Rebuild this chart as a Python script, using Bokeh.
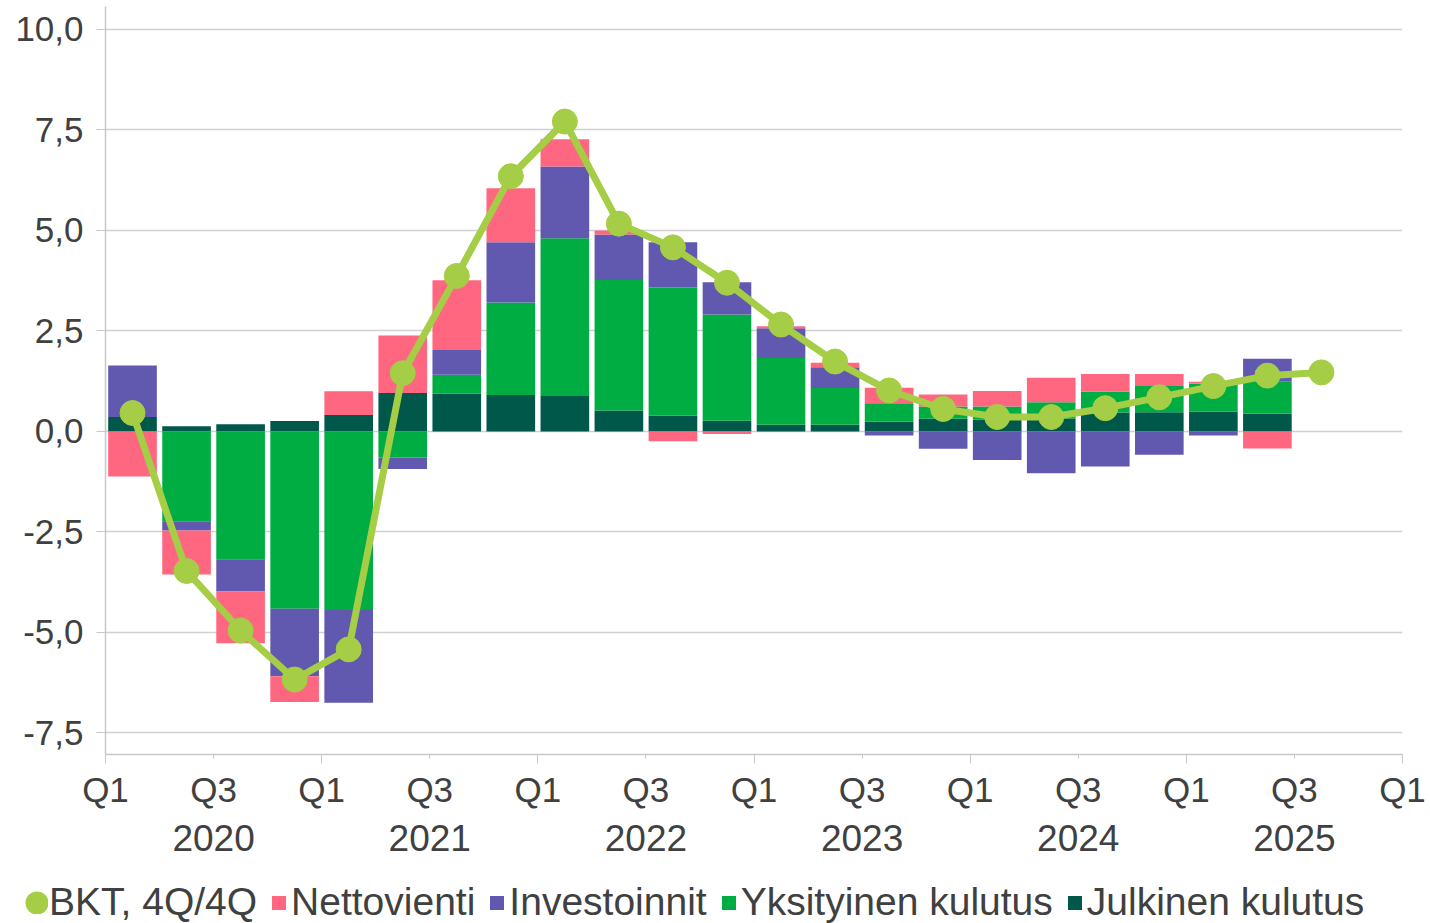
from bokeh.plotting import figure
from bokeh.layouts import column
from bokeh.models import (ColumnDataSource, FixedTicker, LinearAxis, Range1d,
                          Legend, LegendItem, CustomJSTickFormatter)
from bokeh.embed import file_html
from bokeh.resources import INLINE

# ---------------- data ----------------
quarters = ["2020Q1", "2020Q2", "2020Q3", "2020Q4",
            "2021Q1", "2021Q2", "2021Q3", "2021Q4",
            "2022Q1", "2022Q2", "2022Q3", "2022Q4",
            "2023Q1", "2023Q2", "2023Q3", "2023Q4",
            "2024Q1", "2024Q2", "2024Q3", "2024Q4",
            "2025Q1", "2025Q2", "2025Q3"]
years = ["2020", "2021", "2022", "2023", "2024", "2025"]
quarter_tick_labels = ["Q1", "Q3"]
y_ticks = [-7.5, -5.0, -2.5, 0.0, 2.5, 5.0, 7.5, 10.0]

julkinen = [0.36, 0.13, 0.18, 0.26, 0.41, 0.96, 0.94, 0.91, 0.88, 0.52, 0.39,
            0.27, 0.17, 0.17, 0.25, 0.32, 0.30, 0.32, 0.47, 0.48, 0.50, 0.45]
yksityinen = [0.00, -2.23, -3.18, -4.41, -4.44, -0.65, 0.47, 2.30, 3.93, 3.25, 3.19,
              2.64, 1.66, 0.91, 0.45, 0.30, 0.32, 0.41, 0.52, 0.65, 0.69, 0.79]
investoinnit = [1.28, -0.23, -0.80, -1.68, -2.31, -0.28, 0.62, 1.50, 1.78, 1.13, 1.13,
                0.80, 0.74, 0.52, -0.10, -0.43, -0.71, -1.04, -0.87, -0.58, -0.10, 0.57]
nettovienti = [-1.12, -1.10, -1.29, -0.64, 0.59, 1.43, 1.73, 1.34, 0.68, 0.10, -0.24,
               -0.06, 0.05, 0.11, 0.39, 0.30, 0.39, 0.61, 0.44, 0.30, 0.05, -0.42]
bkt = [0.46, -3.47, -4.95, -6.17, -5.42, 1.45, 3.87, 6.35, 7.71, 5.17, 4.58, 3.70,
       2.66, 1.74, 1.02, 0.56, 0.36, 0.36, 0.58, 0.85, 1.13, 1.39, 1.47]

series_names = ["Julkinen kulutus", "Yksityinen kulutus", "Investoinnit", "Nettovienti"]
series_values = [julkinen, yksityinen, investoinnit, nettovienti]
series_colors = ["#00584b", "#00ad43", "#6158b0", "#ff6680"]
legend_order = ["Nettovienti", "Investoinnit", "Yksityinen kulutus", "Julkinen kulutus"]
bkt_label = "BKT, 4Q/4Q"
line_color = "#a5cd45"
text_color = "#404040"
axis_color = "#c8c8c8"
FONT = "Liberation Sans"

# ---------------- stacking (positives up, negatives down) ----------------
n_bars = len(julkinen)
bar_x = [i + 0.5 for i in range(n_bars)]
pos_base = [0.0] * n_bars
neg_base = [0.0] * n_bars
stacks = []
for vals in series_values:
    bottoms, tops = [], []
    for i, v in enumerate(vals):
        if v >= 0:
            bottoms.append(pos_base[i]); tops.append(pos_base[i] + v)
            pos_base[i] += v
        else:
            tops.append(neg_base[i]); bottoms.append(neg_base[i] + v)
            neg_base[i] += v
    stacks.append((bottoms, tops))

# ---------------- main figure ----------------
n_slots = len(quarters) + 1  # axis runs 2020Q1 .. 2026Q1
p = figure(width=1430, height=868,
           x_range=Range1d(0, n_slots), y_range=Range1d(-8.035, 10.572),
           output_backend="svg", toolbar_location=None,
           min_border_left=105, min_border_right=28,
           min_border_top=6, min_border_bottom=114)
p.frame_align = False
p.outline_line_color = None
p.background_fill_color = "white"
p.border_fill_color = "white"

for name, (bottoms, tops), color in zip(series_names, stacks, series_colors):
    src = ColumnDataSource(dict(x=bar_x, bottom=bottoms, top=tops))
    p.vbar(x="x", bottom="bottom", top="top", width=0.9, source=src,
           fill_color=color, line_color=None)

line_x = [i + 0.5 for i in range(len(bkt))]
lsrc = ColumnDataSource(dict(x=line_x, y=bkt))
p.line("x", "y", source=lsrc, line_color=line_color, line_width=7)
p.scatter("x", "y", source=lsrc, size=25, marker="circle",
          fill_color=line_color, line_color=line_color)

# ---------------- axes ----------------
xa = p.xaxis[0]
q_ticks = list(range(0, n_slots + 1, 2))
xa.ticker = FixedTicker(ticks=q_ticks, minor_ticks=list(range(0, n_slots + 1, 4)))
xa.major_label_overrides = {t: quarter_tick_labels[(t // 2) % 2] for t in q_ticks}
xa.axis_line_color = axis_color
xa.axis_line_width = 1.5
xa.major_tick_line_color = axis_color
xa.minor_tick_line_color = axis_color
xa.major_tick_out = 4
xa.major_tick_in = 0
xa.minor_tick_out = 9
xa.minor_tick_in = 0
xa.major_label_standoff = 6
xa.major_label_text_font = FONT
xa.major_label_text_font_size = "35px"
xa.major_label_text_color = text_color

year_ticks = [2 + 4 * i for i in range(len(years))]
ya2 = LinearAxis(ticker=FixedTicker(ticks=year_ticks),
                 major_label_overrides={t: y for t, y in zip(year_ticks, years)})
ya2.axis_line_color = None
ya2.major_tick_line_color = None
ya2.minor_tick_line_color = None
ya2.major_tick_out = 0
ya2.major_label_standoff = 13
ya2.major_label_text_font = FONT
ya2.major_label_text_font_size = "37px"
ya2.major_label_text_color = text_color
p.add_layout(ya2, "below")

ya = p.yaxis[0]
ya.ticker = FixedTicker(ticks=y_ticks)
ya.formatter = CustomJSTickFormatter(code="return tick.toFixed(1).replace('.', ',');")
ya.axis_line_color = axis_color
ya.axis_line_width = 1.5
ya.major_tick_line_color = axis_color
ya.minor_tick_line_color = None
ya.major_tick_out = 9
ya.major_tick_in = 0
ya.major_label_standoff = 13
ya.major_label_text_font = FONT
ya.major_label_text_font_size = "35px"
ya.major_label_text_color = text_color

p.xgrid.visible = False
p.ygrid.grid_line_color = "#d0d0d0"
p.ygrid.grid_line_width = 1.3

# ---------------- legend strip (separate figure below) ----------------
lg = figure(width=1430, height=55, x_range=Range1d(0, 1), y_range=Range1d(0, 1),
            output_backend="svg", toolbar_location=None,
            x_axis_type=None, y_axis_type=None,
            min_border_left=0, min_border_right=0, min_border_top=0, min_border_bottom=0)
lg.frame_align = False
lg.outline_line_color = None
lg.xgrid.visible = False
lg.ygrid.visible = False

# legend-only glyphs, placed outside the visible range
leg_marker = lg.scatter(x=[-10], y=[0.5], size=10, marker="circle",
                        fill_color=line_color, line_color=line_color, line_width=13.8)
items = [LegendItem(label=bkt_label, renderers=[leg_marker])]
for nm in legend_order:
    color = series_colors[series_names.index(nm)]
    r = lg.scatter(x=[-10], y=[0.5], size=10, marker="square", fill_color=color,
                   line_color=color, line_width=4.8, line_join="miter")
    items.append(LegendItem(label=nm, renderers=[r]))

leg = Legend(items=items, location=(25, -1), orientation="horizontal",
             glyph_width=23, glyph_height=23, label_standoff=1, spacing=10,
             background_fill_alpha=0, border_line_color=None, padding=0, margin=0,
             label_text_font=FONT, label_text_font_size="39px",
             label_text_color=text_color)
lg.add_layout(leg)

layout = column(p, lg, spacing=0)
open("out.html", "w").write(file_html(layout, INLINE))
